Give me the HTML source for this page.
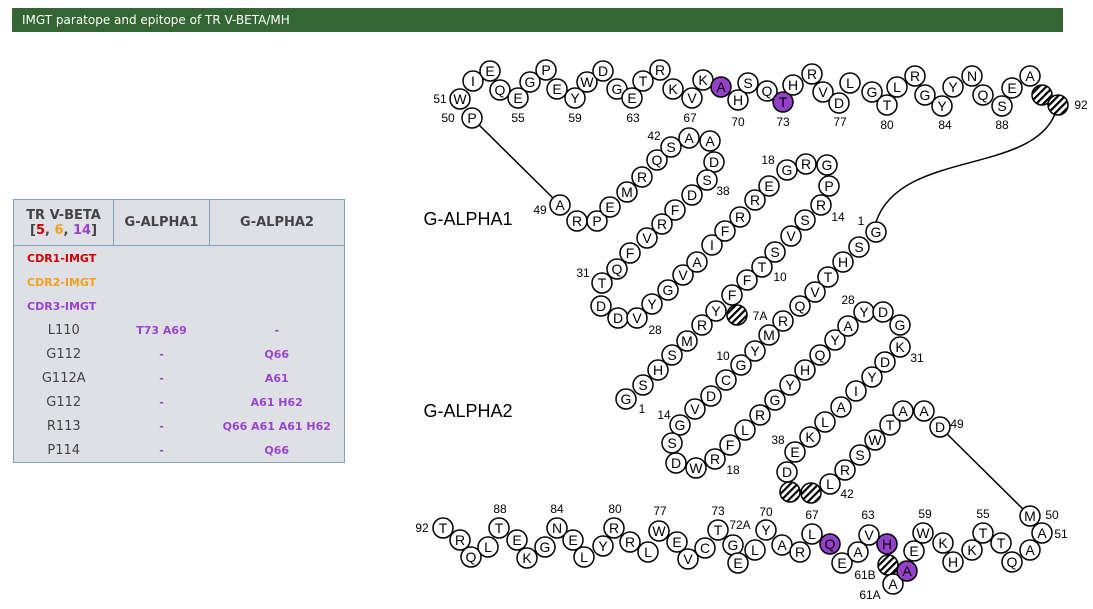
<!DOCTYPE html>
<html><head><meta charset="utf-8"><style>
body{margin:0;width:1093px;height:609px;background:#fff;position:relative;overflow:hidden;font-family:"DejaVu Sans",sans-serif}
.bar{position:absolute;left:12px;top:8px;width:1051px;height:24px;background:#336633;color:#fff;font:12px "DejaVu Sans",sans-serif;line-height:24px;padding-left:10px;box-sizing:border-box}
table{position:absolute;left:13px;top:199px;width:332px;border-collapse:collapse;background:#dfe0e5;border:1px solid #7f9fc4}
th{font:bold 13px "DejaVu Sans",sans-serif;color:#444;height:45px;border:1px solid #7f9fc4;padding:0}
td{height:24px;padding:0;text-align:center;font:13px "DejaVu Sans",sans-serif;color:#444}
td.p{font:bold 11px "DejaVu Sans",sans-serif;color:#9944cc}
td.l{text-align:left;padding-left:13px;font:bold 11px "DejaVu Sans",sans-serif}
svg{position:absolute;left:0;top:0}
circle{fill:#fff;stroke:#000;stroke-width:1.5}
circle.pu{fill:#9440c8}
circle.h{fill:url(#hat)}
text{font-family:"Liberation Sans",sans-serif;text-anchor:middle;dominant-baseline:central}
.r text{font-size:14px}
.lb text{font-size:12px}
</style></head><body>
<div class="bar">IMGT paratope and epitope of TR V-BETA/MH</div>
<table>
<tr><th style="width:99px">TR V-BETA<br>[<span style="color:#c00">5</span>, <span style="color:#f0a020">6</span>, <span style="color:#9944cc">14</span>]</th><th style="width:95px">G-ALPHA1</th><th>G-ALPHA2</th></tr>
<tr><td class="l" style="color:#c00">CDR1-IMGT</td><td></td><td></td></tr>
<tr><td class="l" style="color:#f0a020">CDR2-IMGT</td><td></td><td></td></tr>
<tr><td class="l" style="color:#9944cc">CDR3-IMGT</td><td></td><td></td></tr>
<tr><td>L110</td><td class="p">T73 A69</td><td class="p">-</td></tr>
<tr><td>G112</td><td class="p">-</td><td class="p">Q66</td></tr>
<tr><td>G112A</td><td class="p">-</td><td class="p">A61</td></tr>
<tr><td>G112</td><td class="p">-</td><td class="p">A61 H62</td></tr>
<tr><td>R113</td><td class="p">-</td><td class="p">Q66 A61 A61 H62</td></tr>
<tr><td>P114</td><td class="p">-</td><td class="p">Q66</td></tr>
</table>
<svg width="1093" height="609" viewBox="0 0 1093 609">
<defs><pattern id="hat" width="5" height="5" patternUnits="userSpaceOnUse" patternTransform="rotate(45)"><rect width="5" height="5" fill="#fff"/><rect width="2.2" height="5" fill="#000"/></pattern></defs>
<text x="468" y="219" style="font-size:18px">G-ALPHA1</text>
<text x="468" y="411" style="font-size:18px">G-ALPHA2</text>
<g fill="none" stroke="#000" stroke-width="1.5">
<line x1="472" y1="118" x2="560" y2="205"/>
<path d="M1055,114 C1030,175 900,150 876,222"/>
<line x1="940" y1="427" x2="1030" y2="516"/>
</g>
<g class="lb">
<text x="440" y="99">51</text><text x="448" y="118">50</text><text x="518" y="118">55</text><text x="575" y="118">59</text><text x="633" y="118">63</text><text x="690" y="118">67</text><text x="738" y="122">70</text><text x="783" y="122">73</text><text x="840" y="122">77</text><text x="887" y="125">80</text><text x="945" y="125">84</text><text x="1002" y="125">88</text><text x="1081" y="105">92</text>
<text x="540" y="210">49</text><text x="654" y="136">42</text><text x="723" y="191">38</text><text x="583" y="273">31</text><text x="655" y="330">28</text><text x="768" y="160">18</text><text x="838" y="217">14</text><text x="780" y="277">10</text><text x="760" y="316">7A</text><text x="642" y="409">1</text>
<text x="861" y="221">1</text><text x="723" y="356">10</text><text x="664" y="415">14</text><text x="733" y="470">18</text><text x="848" y="300">28</text><text x="917" y="358">31</text><text x="778" y="440">38</text><text x="847" y="494">42</text><text x="957" y="424">49</text>
<text x="422" y="528">92</text><text x="500" y="509">88</text><text x="557" y="509">84</text><text x="615" y="509">80</text><text x="660" y="511">77</text><text x="718" y="511">73</text><text x="740" y="525">72A</text><text x="766" y="512">70</text><text x="812" y="515">67</text><text x="868" y="515">63</text><text x="865" y="575">61B</text><text x="870" y="595">61A</text><text x="925" y="514">59</text><text x="983" y="514">55</text><text x="1061" y="534">51</text><text x="1052" y="515">50</text>
</g>
<g class="r">
<circle cx="472" cy="118" r="10"/><text x="472" y="118">P</text>
<circle cx="460" cy="99" r="10"/><text x="460" y="99">W</text>
<circle cx="473" cy="81" r="10"/><text x="473" y="81">I</text>
<circle cx="490" cy="71" r="10"/><text x="490" y="71">E</text>
<circle cx="500" cy="90" r="10"/><text x="500" y="90">Q</text>
<circle cx="518" cy="98" r="10"/><text x="518" y="98">E</text>
<circle cx="530" cy="82" r="10"/><text x="530" y="82">G</text>
<circle cx="546" cy="70" r="10"/><text x="546" y="70">P</text>
<circle cx="557" cy="89" r="10"/><text x="557" y="89">E</text>
<circle cx="575" cy="98" r="10"/><text x="575" y="98">Y</text>
<circle cx="587" cy="82" r="10"/><text x="587" y="82">W</text>
<circle cx="603" cy="71" r="10"/><text x="603" y="71">D</text>
<circle cx="617" cy="89" r="10"/><text x="617" y="89">G</text>
<circle cx="632" cy="98" r="10"/><text x="632" y="98">E</text>
<circle cx="643" cy="81" r="10"/><text x="643" y="81">T</text>
<circle cx="660" cy="70" r="10"/><text x="660" y="70">R</text>
<circle cx="673" cy="89" r="10"/><text x="673" y="89">K</text>
<circle cx="692" cy="98" r="10"/><text x="692" y="98">V</text>
<circle cx="703" cy="80" r="10"/><text x="703" y="80">K</text>
<circle class="pu" cx="721" cy="87" r="10"/><text x="721" y="87">A</text>
<circle cx="738" cy="100" r="10"/><text x="738" y="100">H</text>
<circle cx="748" cy="83" r="10"/><text x="748" y="83">S</text>
<circle cx="767" cy="91" r="10"/><text x="767" y="91">Q</text>
<circle class="pu" cx="783" cy="102" r="10"/><text x="783" y="102">T</text>
<circle cx="793" cy="85" r="10"/><text x="793" y="85">H</text>
<circle cx="812" cy="74" r="10"/><text x="812" y="74">R</text>
<circle cx="823" cy="92" r="10"/><text x="823" y="92">V</text>
<circle cx="839" cy="103" r="10"/><text x="839" y="103">D</text>
<circle cx="850" cy="83" r="10"/><text x="850" y="83">L</text>
<circle cx="872" cy="92" r="10"/><text x="872" y="92">G</text>
<circle cx="887" cy="105" r="10"/><text x="887" y="105">T</text>
<circle cx="897" cy="87" r="10"/><text x="897" y="87">L</text>
<circle cx="915" cy="76" r="10"/><text x="915" y="76">R</text>
<circle cx="925" cy="95" r="10"/><text x="925" y="95">G</text>
<circle cx="942" cy="106" r="10"/><text x="942" y="106">Y</text>
<circle cx="953" cy="87" r="10"/><text x="953" y="87">Y</text>
<circle cx="972" cy="76" r="10"/><text x="972" y="76">N</text>
<circle cx="983" cy="95" r="10"/><text x="983" y="95">Q</text>
<circle cx="1002" cy="106" r="10"/><text x="1002" y="106">S</text>
<circle cx="1012" cy="88" r="10"/><text x="1012" y="88">E</text>
<circle cx="1030" cy="76" r="10"/><text x="1030" y="76">A</text>
<circle class="h" cx="1042" cy="95" r="10"/>
<circle class="h" cx="1058" cy="105" r="10"/>

<circle cx="560" cy="205" r="10"/><text x="560" y="205">A</text>
<circle cx="577" cy="221" r="10"/><text x="577" y="221">R</text>
<circle cx="597" cy="221" r="10"/><text x="597" y="221">P</text>
<circle cx="610" cy="207" r="10"/><text x="610" y="207">E</text>
<circle cx="627" cy="192" r="10"/><text x="627" y="192">M</text>
<circle cx="642" cy="177" r="10"/><text x="642" y="177">R</text>
<circle cx="657" cy="160" r="10"/><text x="657" y="160">Q</text>
<circle cx="671" cy="147" r="10"/><text x="671" y="147">S</text>
<circle cx="689" cy="138" r="10"/><text x="689" y="138">A</text>
<circle cx="710" cy="141" r="10"/><text x="710" y="141">A</text>
<circle cx="714" cy="162" r="10"/><text x="714" y="162">D</text>
<circle cx="707" cy="180" r="10"/><text x="707" y="180">S</text>
<circle cx="692" cy="195" r="10"/><text x="692" y="195">D</text>
<circle cx="675" cy="210" r="10"/><text x="675" y="210">F</text>
<circle cx="662" cy="224" r="10"/><text x="662" y="224">R</text>
<circle cx="647" cy="238" r="10"/><text x="647" y="238">V</text>
<circle cx="630" cy="253" r="10"/><text x="630" y="253">F</text>
<circle cx="617" cy="269" r="10"/><text x="617" y="269">Q</text>
<circle cx="602" cy="283" r="10"/><text x="602" y="283">T</text>
<circle cx="601" cy="306" r="10"/><text x="601" y="306">D</text>
<circle cx="618" cy="318" r="10"/><text x="618" y="318">D</text>
<circle cx="637" cy="318" r="10"/><text x="637" y="318">V</text>
<circle cx="652" cy="304" r="10"/><text x="652" y="304">Y</text>
<circle cx="668" cy="290" r="10"/><text x="668" y="290">G</text>
<circle cx="683" cy="275" r="10"/><text x="683" y="275">V</text>
<circle cx="697" cy="262" r="10"/><text x="697" y="262">A</text>
<circle cx="712" cy="245" r="10"/><text x="712" y="245">I</text>
<circle cx="725" cy="231" r="10"/><text x="725" y="231">F</text>
<circle cx="740" cy="217" r="10"/><text x="740" y="217">R</text>
<circle cx="755" cy="200" r="10"/><text x="755" y="200">R</text>
<circle cx="769" cy="186" r="10"/><text x="769" y="186">E</text>
<circle cx="787" cy="170" r="10"/><text x="787" y="170">G</text>
<circle cx="806" cy="164" r="10"/><text x="806" y="164">R</text>
<circle cx="827" cy="165" r="10"/><text x="827" y="165">G</text>
<circle cx="829" cy="186" r="10"/><text x="829" y="186">P</text>
<circle cx="821" cy="205" r="10"/><text x="821" y="205">R</text>
<circle cx="805" cy="220" r="10"/><text x="805" y="220">S</text>
<circle cx="791" cy="236" r="10"/><text x="791" y="236">V</text>
<circle cx="775" cy="252" r="10"/><text x="775" y="252">S</text>
<circle cx="762" cy="267" r="10"/><text x="762" y="267">T</text>
<circle cx="747" cy="280" r="10"/><text x="747" y="280">F</text>
<circle cx="732" cy="295" r="10"/><text x="732" y="295">F</text>
<circle class="h" cx="737" cy="315" r="10"/>
<circle cx="716" cy="311" r="10"/><text x="716" y="311">Y</text>
<circle cx="702" cy="325" r="10"/><text x="702" y="325">R</text>
<circle cx="687" cy="341" r="10"/><text x="687" y="341">M</text>
<circle cx="672" cy="355" r="10"/><text x="672" y="355">S</text>
<circle cx="658" cy="370" r="10"/><text x="658" y="370">H</text>
<circle cx="643" cy="385" r="10"/><text x="643" y="385">S</text>
<circle cx="626" cy="399" r="10"/><text x="626" y="399">G</text>

<circle cx="876" cy="232" r="10"/><text x="876" y="232">G</text>
<circle cx="859" cy="247" r="10"/><text x="859" y="247">S</text>
<circle cx="843" cy="262" r="10"/><text x="843" y="262">H</text>
<circle cx="828" cy="277" r="10"/><text x="828" y="277">T</text>
<circle cx="815" cy="292" r="10"/><text x="815" y="292">V</text>
<circle cx="800" cy="306" r="10"/><text x="800" y="306">Q</text>
<circle cx="783" cy="321" r="10"/><text x="783" y="321">R</text>
<circle cx="769" cy="335" r="10"/><text x="769" y="335">M</text>
<circle cx="755" cy="351" r="10"/><text x="755" y="351">Y</text>
<circle cx="741" cy="365" r="10"/><text x="741" y="365">G</text>
<circle cx="726" cy="380" r="10"/><text x="726" y="380">C</text>
<circle cx="711" cy="396" r="10"/><text x="711" y="396">D</text>
<circle cx="695" cy="409" r="10"/><text x="695" y="409">V</text>
<circle cx="680" cy="425" r="10"/><text x="680" y="425">G</text>
<circle cx="672" cy="443" r="10"/><text x="672" y="443">S</text>
<circle cx="676" cy="463" r="10"/><text x="676" y="463">D</text>
<circle cx="696" cy="468" r="10"/><text x="696" y="468">W</text>
<circle cx="715" cy="459" r="10"/><text x="715" y="459">R</text>
<circle cx="730" cy="445" r="10"/><text x="730" y="445">F</text>
<circle cx="745" cy="430" r="10"/><text x="745" y="430">L</text>
<circle cx="760" cy="415" r="10"/><text x="760" y="415">R</text>
<circle cx="775" cy="400" r="10"/><text x="775" y="400">G</text>
<circle cx="790" cy="385" r="10"/><text x="790" y="385">Y</text>
<circle cx="805" cy="370" r="10"/><text x="805" y="370">H</text>
<circle cx="820" cy="355" r="10"/><text x="820" y="355">Q</text>
<circle cx="835" cy="340" r="10"/><text x="835" y="340">Y</text>
<circle cx="848" cy="326" r="10"/><text x="848" y="326">A</text>
<circle cx="864" cy="312" r="10"/><text x="864" y="312">Y</text>
<circle cx="883" cy="312" r="10"/><text x="883" y="312">D</text>
<circle cx="900" cy="325" r="10"/><text x="900" y="325">G</text>
<circle cx="900" cy="347" r="10"/><text x="900" y="347">K</text>
<circle cx="885" cy="362" r="10"/><text x="885" y="362">D</text>
<circle cx="872" cy="377" r="10"/><text x="872" y="377">Y</text>
<circle cx="856" cy="391" r="10"/><text x="856" y="391">I</text>
<circle cx="841" cy="407" r="10"/><text x="841" y="407">A</text>
<circle cx="825" cy="422" r="10"/><text x="825" y="422">L</text>
<circle cx="810" cy="437" r="10"/><text x="810" y="437">K</text>
<circle cx="795" cy="452" r="10"/><text x="795" y="452">E</text>
<circle cx="787" cy="472" r="10"/><text x="787" y="472">D</text>
<circle class="h" cx="790" cy="492" r="10"/>
<circle class="h" cx="811" cy="493" r="10"/>
<circle cx="830" cy="484" r="10"/><text x="830" y="484">L</text>
<circle cx="845" cy="470" r="10"/><text x="845" y="470">R</text>
<circle cx="860" cy="455" r="10"/><text x="860" y="455">S</text>
<circle cx="875" cy="440" r="10"/><text x="875" y="440">W</text>
<circle cx="890" cy="425" r="10"/><text x="890" y="425">T</text>
<circle cx="903" cy="411" r="10"/><text x="903" y="411">A</text>
<circle cx="924" cy="411" r="10"/><text x="924" y="411">A</text>
<circle cx="940" cy="427" r="10"/><text x="940" y="427">D</text>

<circle cx="443" cy="528" r="10"/><text x="443" y="528">T</text>
<circle cx="460" cy="540" r="10"/><text x="460" y="540">R</text>
<circle cx="471" cy="557" r="10"/><text x="471" y="557">Q</text>
<circle cx="488" cy="547" r="10"/><text x="488" y="547">L</text>
<circle cx="499" cy="528" r="10"/><text x="499" y="528">T</text>
<circle cx="517" cy="540" r="10"/><text x="517" y="540">E</text>
<circle cx="527" cy="558" r="10"/><text x="527" y="558">K</text>
<circle cx="545" cy="547" r="10"/><text x="545" y="547">G</text>
<circle cx="557" cy="528" r="10"/><text x="557" y="528">N</text>
<circle cx="573" cy="540" r="10"/><text x="573" y="540">E</text>
<circle cx="584" cy="557" r="10"/><text x="584" y="557">L</text>
<circle cx="603" cy="546" r="10"/><text x="603" y="546">Y</text>
<circle cx="614" cy="528" r="10"/><text x="614" y="528">R</text>
<circle cx="630" cy="542" r="10"/><text x="630" y="542">R</text>
<circle cx="648" cy="552" r="10"/><text x="648" y="552">L</text>
<circle cx="659" cy="531" r="10"/><text x="659" y="531">W</text>
<circle cx="677" cy="542" r="10"/><text x="677" y="542">E</text>
<circle cx="688" cy="559" r="10"/><text x="688" y="559">V</text>
<circle cx="705" cy="548" r="10"/><text x="705" y="548">C</text>
<circle cx="718" cy="530" r="10"/><text x="718" y="530">T</text>
<circle cx="733" cy="545" r="10"/><text x="733" y="545">G</text>
<circle cx="738" cy="563" r="10"/><text x="738" y="563">E</text>
<circle cx="755" cy="550" r="10"/><text x="755" y="550">L</text>
<circle cx="766" cy="530" r="10"/><text x="766" y="530">Y</text>
<circle cx="782" cy="545" r="10"/><text x="782" y="545">A</text>
<circle cx="800" cy="552" r="10"/><text x="800" y="552">R</text>
<circle cx="812" cy="534" r="10"/><text x="812" y="534">L</text>
<circle class="pu" cx="830" cy="544" r="10"/><text x="830" y="544">Q</text>
<circle cx="842" cy="563" r="10"/><text x="842" y="563">E</text>
<circle cx="858" cy="552" r="10"/><text x="858" y="552">A</text>
<circle cx="869" cy="535" r="10"/><text x="869" y="535">V</text>
<circle class="pu" cx="887" cy="544" r="10"/><text x="887" y="544">H</text>
<circle class="h" cx="888" cy="565" r="10"/>
<circle cx="893" cy="584" r="10"/><text x="893" y="584">A</text>
<circle class="pu" cx="907" cy="571" r="10"/><text x="907" y="571">A</text>
<circle cx="914" cy="551" r="10"/><text x="914" y="551">E</text>
<circle cx="923" cy="533" r="10"/><text x="923" y="533">W</text>
<circle cx="943" cy="543" r="10"/><text x="943" y="543">K</text>
<circle cx="953" cy="562" r="10"/><text x="953" y="562">H</text>
<circle cx="972" cy="550" r="10"/><text x="972" y="550">K</text>
<circle cx="983" cy="533" r="10"/><text x="983" y="533">T</text>
<circle cx="1001" cy="543" r="10"/><text x="1001" y="543">T</text>
<circle cx="1012" cy="562" r="10"/><text x="1012" y="562">Q</text>
<circle cx="1030" cy="550" r="10"/><text x="1030" y="550">A</text>
<circle cx="1042" cy="533" r="10"/><text x="1042" y="533">A</text>
<circle cx="1030" cy="516" r="10"/><text x="1030" y="516">M</text>
</g>
</svg>
</body></html>
